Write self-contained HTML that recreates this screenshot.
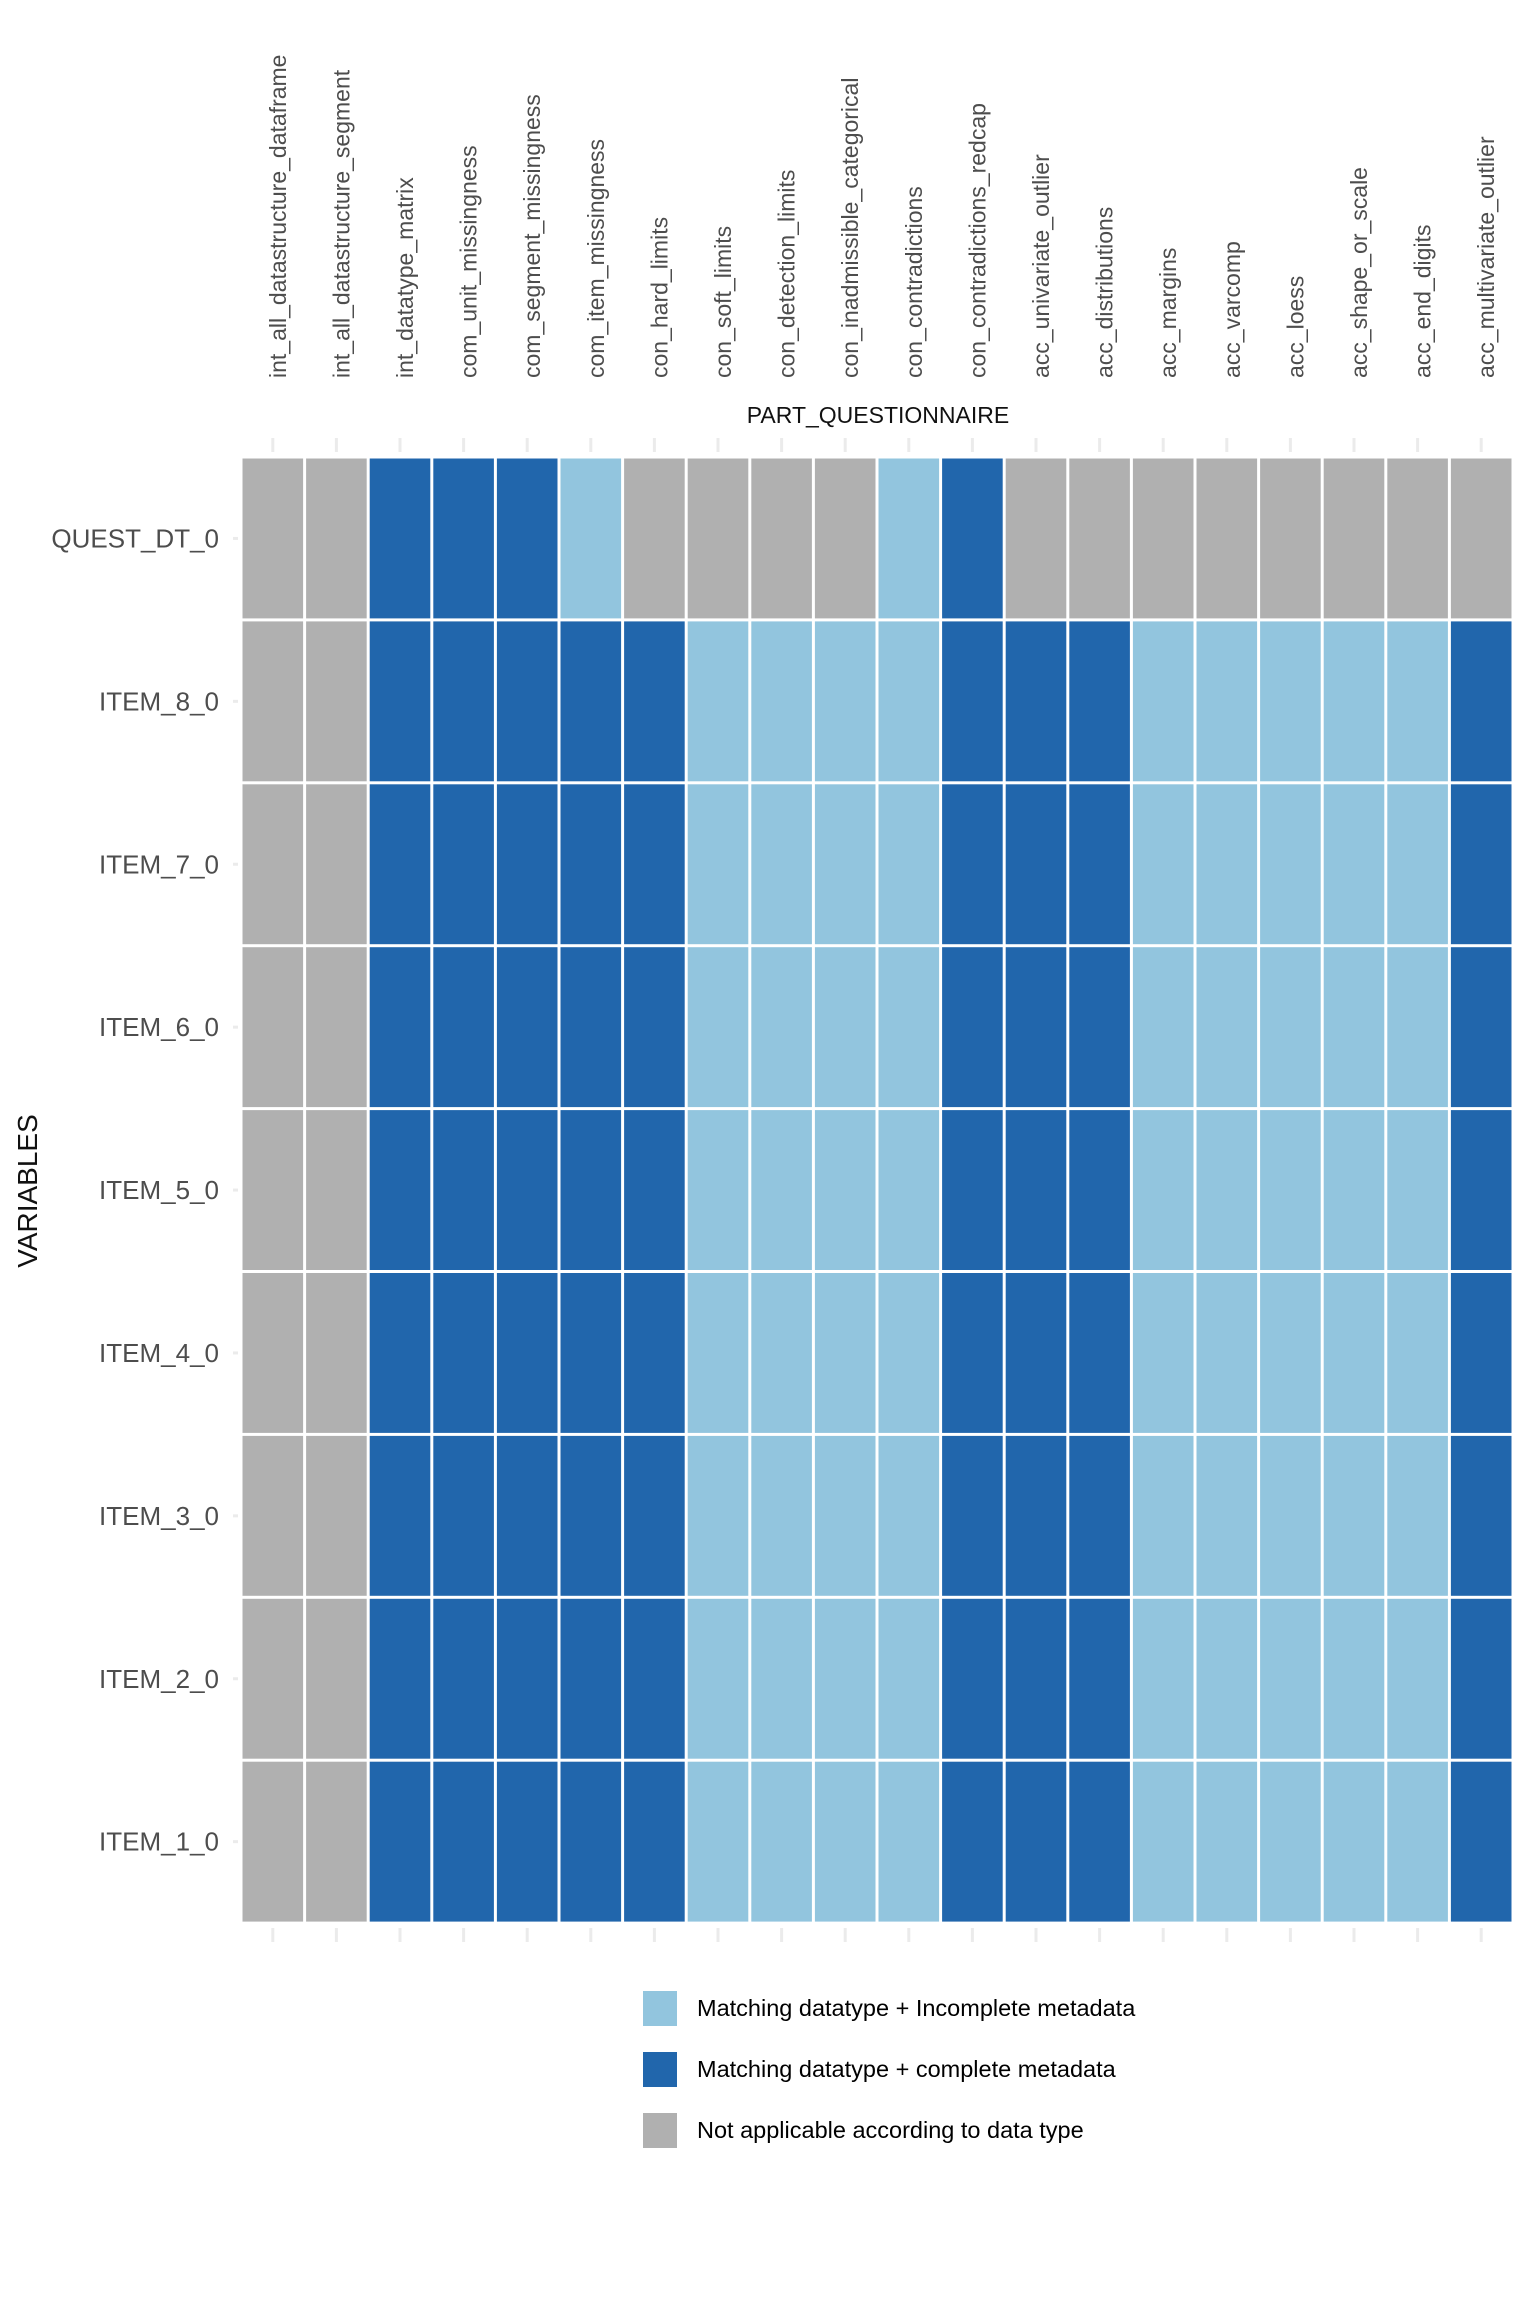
<!DOCTYPE html>
<html><head><meta charset="utf-8"><style>body{margin:0;background:#fff}svg{display:block}</style></head>
<body>
<svg id="s" width="1536" height="2304" xmlns="http://www.w3.org/2000/svg" font-family="Liberation Sans, sans-serif"></svg>
<script>
const s=document.getElementById('s');
const cols=["int_all_datastructure_dataframe","int_all_datastructure_segment","int_datatype_matrix","com_unit_missingness","com_segment_missingness","com_item_missingness","con_hard_limits","con_soft_limits","con_detection_limits","con_inadmissible_categorical","con_contradictions","con_contradictions_redcap","acc_univariate_outlier","acc_distributions","acc_margins","acc_varcomp","acc_loess","acc_shape_or_scale","acc_end_digits","acc_multivariate_outlier"];
const rows=["QUEST_DT_0","ITEM_8_0","ITEM_7_0","ITEM_6_0","ITEM_5_0","ITEM_4_0","ITEM_3_0","ITEM_2_0","ITEM_1_0"];
const C={G:"#b0b0b0",L:"#92c5de",D:"#2166ac"};
const r0="GGDDDLGGGGLDGGGGGGGG", ri="GGDDDDDLLLLDDDLLLLLD";
const x0=241,y0=457,cw=63.6,rh=162.9;
let h='';
for(let j=0;j<20;j++){const cx=x0+cw*(j+.5);
 h+=`<rect x="${cx-1.5}" y="438" width="3" height="14" fill="#ebebeb"/><rect x="${cx-1.5}" y="1928" width="3" height="14" fill="#ebebeb"/>`;
 h+=`<text transform="translate(${cx+13},378) rotate(-90)" font-size="23" fill="#4d4d4d">${cols[j]}</text>`;}
for(let i=0;i<9;i++){const cy=y0+rh*(i+.5);const pat=i?ri:r0;
 h+=`<rect x="233" y="${cy-1.5}" width="5" height="3" fill="#ebebeb"/>`;
 h+=`<text x="219" y="${cy+9}" font-size="26" fill="#4d4d4d" text-anchor="end">${rows[i]}</text>`;
 for(let j=0;j<20;j++)h+=`<rect x="${x0+cw*j+1.5}" y="${y0+rh*i+1.5}" width="${cw-3}" height="${rh-3}" fill="${C[pat[j]]}"/>`;}
h+=`<text x="878" y="423" font-size="23" text-anchor="middle" fill="#111">PART_QUESTIONNAIRE</text>`;
h+=`<text transform="translate(37,1191) rotate(-90)" font-size="28" text-anchor="middle" fill="#111">VARIABLES</text>`;
const lg=[["L","Matching datatype + Incomplete metadata"],["D","Matching datatype + complete metadata"],["G","Not applicable according to data type"]];
lg.forEach((l,k)=>{const y=1991+61*k;h+=`<rect x="643" y="${y}" width="34" height="35" fill="${C[l[0]]}"/><text x="697" y="${y+25}" font-size="23.5" fill="#000">${l[1]}</text>`;});
s.innerHTML=h;
</script>
</body></html>
